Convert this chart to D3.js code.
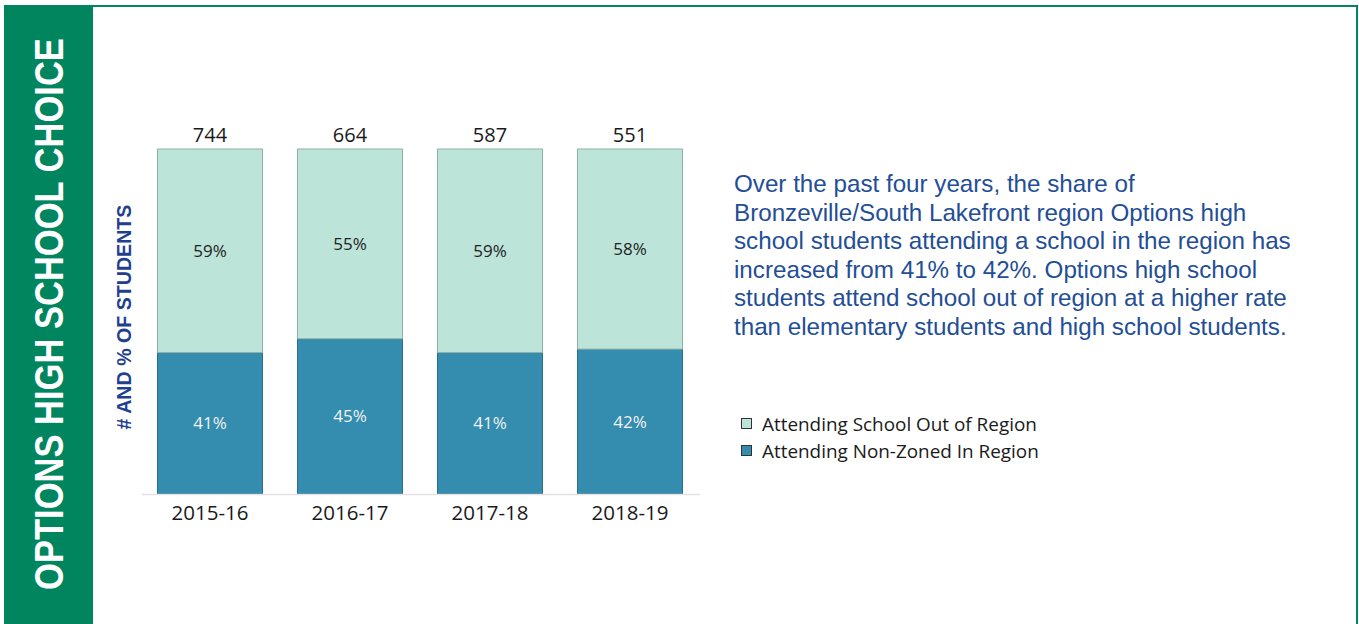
<!DOCTYPE html>
<html><head><meta charset="utf-8">
<script src="https://cdn.jsdelivr.net/npm/d3@7"></script>
<style>body{margin:0;background:#fff;}svg{display:block;}</style>
</head><body>
<svg id="c" width="1359" height="624"></svg>
<script>
const categories = ["2015-16","2016-17","2017-18","2018-19"];
const totals = [744, 664, 587, 551];
const inRegion = [41, 45, 41, 42];      // Attending Non-Zoned In Region (%)
const outRegion = [59, 55, 59, 58];     // Attending School Out of Region (%)
const seriesNames = ["Attending School Out of Region","Attending Non-Zoned In Region"];
const paragraph = [
  "Over the past four years, the share of",
  "Bronzeville/South Lakefront region Options high",
  "school students attending a school in the region has",
  "increased from 41% to 42%. Options high school",
  "students attend school out of region at a higher rate",
  "than elementary students and high school students."
];

const green = "#00855F", light = "#BDE4D9", dark = "#348CAE", blue = "#234E96";
const svg = d3.select("#c");

// condensed rotated text: scale horizontally so the full text fits the target length
function condensedVertical(sel, cx, cy, target, txt){
  const t = sel.append("text").attr("text-anchor","middle").text(txt);
  return function(){
    const w = t.node().getComputedTextLength();
    const sx = Math.min(1, target / w);
    t.attr("transform",`translate(${cx},${cy}) rotate(-90) scale(${sx},1)`);
    return t;
  };
}

// frame
svg.append("rect").attr("x",5).attr("y",6).attr("width",1352).attr("height",630)
  .attr("fill","none").attr("stroke",green).attr("stroke-width",2);
svg.append("rect").attr("x",5).attr("y",5).attr("width",88).attr("height",624).attr("fill",green);
{
  const t = svg.append("text").attr("text-anchor","middle").attr("fill","#fff")
    .style("font-family","'Liberation Sans',Arial,sans-serif")
    .style("font-size","41px").style("font-weight","bold")
    .text("OPTIONS HIGH SCHOOL CHOICE");
  const sx = 552 / t.node().getComputedTextLength();
  t.attr("transform",`translate(63,314) rotate(-90) scale(${sx},1)`);
}

// chart
const x = d3.scaleBand().domain(categories).range([140,700]).paddingInner(0.25).paddingOuter(0.125);
const y = d3.scaleLinear().domain([0,100]).range([494,149]);
const g = svg.append("g");

const stackData = categories.map((c,i)=>({cat:c, inR:inRegion[i], outR:outRegion[i], total:totals[i]}));
const stack = d3.stack().keys(["inR","outR"])(stackData);
const fills = {inR:dark, outR:light};
const strokes = {inR:"#2b6f8a", outR:"#8fb0a8"};

stack.forEach(layer=>{
  g.selectAll(null).data(layer).enter().append("rect")
    .attr("x",d=>x(d.data.cat)).attr("width",x.bandwidth())
    .attr("y",d=>y(Math.min(100,d[1]))).attr("height",d=>y(d[0])-y(Math.min(100,d[1])))
    .attr("fill",fills[layer.key]).attr("stroke",strokes[layer.key]).attr("stroke-width",1);
  g.selectAll(null).data(layer).enter().append("text")
    .attr("x",d=>x(d.data.cat)+x.bandwidth()/2)
    .attr("y",d=>(y(d[0])+y(Math.min(100,d[1])))/2)
    .attr("dy","0.35em").attr("text-anchor","middle")
    .attr("fill",layer.key==="inR"?"#f2f2f2":"#222")
    .style("font-family","'Open Sans',sans-serif").style("font-size","17px")
    .text(d=>d.data[layer.key]+"%");
});

// baseline
g.append("line").attr("x1",142).attr("x2",700).attr("y1",494.5).attr("y2",494.5)
  .attr("stroke","#e2e2e2").attr("stroke-width",1.5);

// totals
g.selectAll(null).data(stackData).enter().append("text")
  .attr("x",d=>x(d.cat)+x.bandwidth()/2).attr("y",142)
  .attr("text-anchor","middle").attr("fill","#1a1a1a")
  .style("font-family","'Open Sans',sans-serif").style("font-size","20px")
  .text(d=>d.total);

// x axis labels
const xAxis = d3.axisBottom(x).tickSize(0).tickPadding(11);
const ax = g.append("g").attr("transform","translate(0,494)").call(xAxis);
ax.select(".domain").remove();
ax.selectAll("text").attr("fill","#1a1a1a")
  .style("font-family","'Open Sans',sans-serif").style("font-size","20.5px");

// y title
{
  const t = svg.append("text").attr("text-anchor","middle").attr("fill","#1F3F8F")
    .style("font-family","'Liberation Sans',Arial,sans-serif")
    .style("font-size","21px").style("font-weight","bold")
    .text("# AND % OF STUDENTS");
  const sx = 225 / t.node().getComputedTextLength();
  t.attr("transform",`translate(131,317) rotate(-90) scale(${sx},1)`);
}

// paragraph
const p = svg.append("text").attr("fill",blue)
  .style("font-family","'Liberation Sans',Arial,sans-serif").style("font-size","21px");
const spans = paragraph.map((line,i)=>
  p.append("tspan").attr("x",734).attr("y",192+i*28.6).text(line));
let maxW = d3.max(spans, s=>s.node().getComputedTextLength());
p.style("font-size",(21*557/maxW).toFixed(2)+"px");

// legend
const leg = svg.append("g");
const legColors = [light, dark];
seriesNames.forEach((n,i)=>{
  leg.append("rect").attr("x",741.5).attr("y",418.5+i*27).attr("width",10).attr("height",10)
    .attr("fill",legColors[i]).attr("stroke","#333").attr("stroke-width",1);
  leg.append("text").attr("x",762).attr("y",424+i*27).attr("dy","0.35em")
    .attr("fill","#1a1a1a").style("font-family","'Open Sans',sans-serif").style("font-size","18.9px")
    .text(n);
});
</script>
</body></html>
